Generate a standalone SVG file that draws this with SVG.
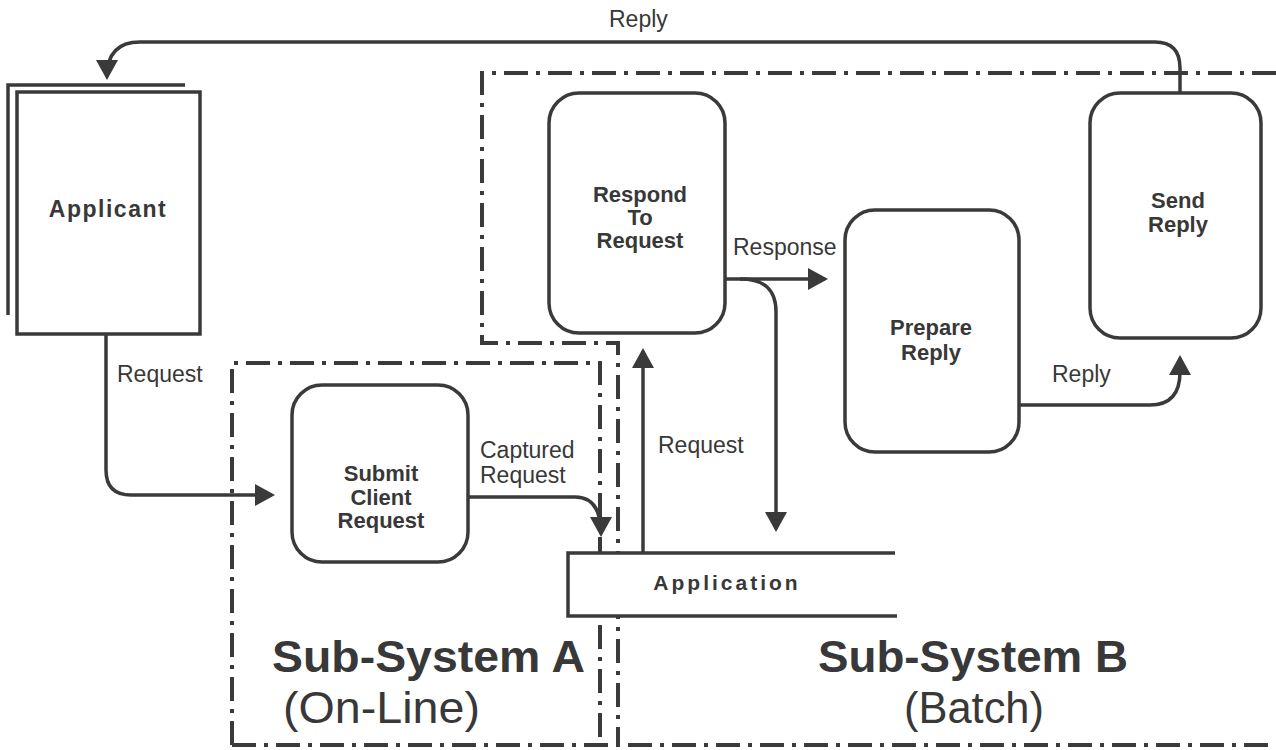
<svg xmlns="http://www.w3.org/2000/svg" width="1276" height="750" viewBox="0 0 1276 750">
<style>
.box{fill:none;stroke:#3a3a3a;stroke-width:3.5}
.line{fill:none;stroke:#3a3a3a;stroke-width:3.5}
.bound{fill:none;stroke:#3a3a3a;stroke-width:4;stroke-dasharray:24 8 4 8}
.nl{font-family:"Liberation Sans",Arial,sans-serif;font-weight:bold;font-size:22px;fill:#383838;text-anchor:middle}
.lbl{font-family:"Liberation Sans",Arial,sans-serif;font-size:23px;fill:#383838}
.big{font-family:"Liberation Sans",Arial,sans-serif;font-size:44px;fill:#383838}
</style>
<defs>
<marker id="ah" viewBox="0 0 20 22" refX="17" refY="11" markerWidth="20" markerHeight="22" orient="auto" markerUnits="userSpaceOnUse">
<path d="M0,0 L20,11 L0,22 z" fill="#3a3a3a"/>
</marker>
</defs>
<rect width="1276" height="750" fill="#ffffff"/>
<g id="boundaries">
<path class="bound" d="M1276,73 H482 V343 H618 V745"/>
<path class="bound" d="M232,745 V363 H600 V745"/>
<path class="bound" d="M232,745 H1276"/>
</g>
<g id="connectors">
<path class="line" d="M1180,93 V68 Q1180,42 1155,42 H140 Q107,42 107,77" marker-end="url(#ah)"/>
<path class="line" d="M106,335 V470 Q106,495 131,495 H272" marker-end="url(#ah)"/>
<path class="line" d="M468,497 H575 Q601,497 601,534" marker-end="url(#ah)"/>
<path class="line" d="M643,553 V351" marker-end="url(#ah)"/>
<path class="line" d="M725,279 H825" marker-end="url(#ah)"/>
<path class="line" d="M740,279 C765,279 776,290 776,312 V529" marker-end="url(#ah)"/>
<path class="line" d="M1019,405 H1150 Q1180,405 1180,372 V358" marker-end="url(#ah)"/>
</g>
<g id="applicant">
<path class="box" d="M8,315 V85 H185"/>
<rect class="box" x="17" y="92" width="183" height="242" fill="#ffffff"/>
<text class="nl" x="108" y="217" style="font-size:23px;letter-spacing:1.5px">Applicant</text>
</g>
<g id="submit">
<rect class="box" x="292" y="385" width="176" height="177" rx="30"/>
<text class="nl" x="381" y="481">Submit</text>
<text class="nl" x="381" y="505">Client</text>
<text class="nl" x="381" y="528">Request</text>
</g>
<g id="respond">
<rect class="box" x="549" y="93" width="176" height="240" rx="30"/>
<text class="nl" x="640" y="202">Respond</text>
<text class="nl" x="640" y="225">To</text>
<text class="nl" x="640" y="248">Request</text>
</g>
<g id="prepare">
<rect class="box" x="845" y="210" width="174" height="242" rx="30"/>
<text class="nl" x="931" y="335">Prepare</text>
<text class="nl" x="931" y="360">Reply</text>
</g>
<g id="send">
<rect class="box" x="1090" y="93" width="171" height="245" rx="30"/>
<text class="nl" x="1178" y="208">Send</text>
<text class="nl" x="1178" y="232">Reply</text>
</g>
<g id="application">
<rect x="568" y="553" width="329" height="63" fill="#ffffff"/>
<path class="box" d="M895,553 H568 V616 H897"/>
<text class="nl" x="727" y="590" style="font-size:21px;letter-spacing:3px">Application</text>
</g>
<g id="labels">
<text class="lbl" x="609" y="27">Reply</text>
<text class="lbl" x="117" y="382">Request</text>
<text class="lbl" x="480" y="458">Captured</text>
<text class="lbl" x="480" y="483">Request</text>
<text class="lbl" x="658" y="453">Request</text>
<text class="lbl" x="733" y="255">Response</text>
<text class="lbl" x="1052" y="382">Reply</text>
<text class="big" x="272" y="672" font-weight="bold" textLength="313" lengthAdjust="spacingAndGlyphs">Sub-System A</text>
<text class="big" x="283" y="723" textLength="197" lengthAdjust="spacingAndGlyphs">(On-Line)</text>
<text class="big" x="818" y="672" font-weight="bold" textLength="310" lengthAdjust="spacingAndGlyphs">Sub-System B</text>
<text class="big" x="904" y="723" textLength="140" lengthAdjust="spacingAndGlyphs">(Batch)</text>
</g>
</svg>
